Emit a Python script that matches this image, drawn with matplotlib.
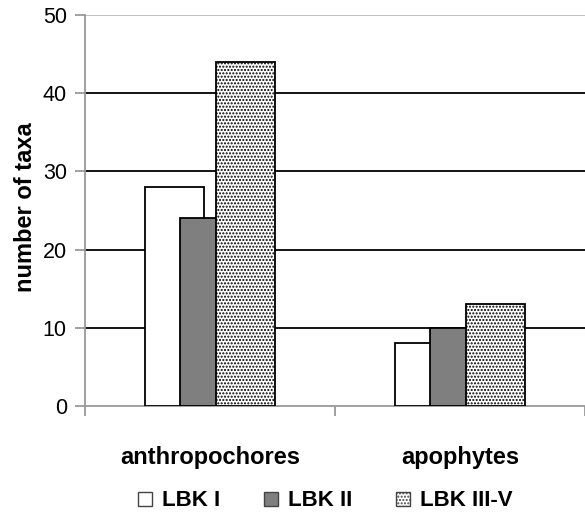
import matplotlib
matplotlib.use("Agg")
import matplotlib.pyplot as plt
import numpy as np
from matplotlib.patches import Patch

categories = ["anthropochores", "apophytes"]
series = ["LBK I", "LBK II", "LBK III-V"]
lbk1 = [28, 8]
lbk2 = [24, 10]
lbk3 = [44, 13]
yticks = [0, 10, 20, 30, 40, 50]

plt.rcParams['font.family'] = ['Liberation Sans', 'DejaVu Sans']
plt.rcParams['hatch.color'] = '#8a8a8a'
plt.rcParams['hatch.linewidth'] = 1.0

fig = plt.figure(figsize=(5.85, 5.27), dpi=100)
ax = fig.add_axes([0.145, 0.2296, 0.855, 0.742])

x = np.arange(len(categories))
w = 0.236
off = 0.142
styles = [dict(facecolor='white'), dict(facecolor='#7f7f7f'),
          dict(facecolor='white', hatch='.....')]
for i, (vals, st) in enumerate(zip([lbk1, lbk2, lbk3], styles)):
    ax.bar(x + (i - 1) * off, vals, width=w, edgecolor='black', linewidth=1.3,
           zorder=3, **st)

ax.set_xlim(-0.5, 1.5)
ax.set_ylim(0, 50)
ax.set_yticks(yticks)
ax.set_yticklabels([str(t) for t in yticks], fontsize=15.5)
for t in [10, 20, 30, 40]:
    ax.axhline(t, color='black', linewidth=1.3, zorder=1)
ax.axhline(50, color='#bbbbbb', linewidth=1.3, zorder=1)

ax.set_xticks([-0.5, 0.5, 1.5], minor=False)
ax.set_xticklabels([])
ax.set_xticks(x, minor=True)
ax.set_xticklabels(categories, minor=True, fontsize=17, fontweight='bold')
ax.tick_params(axis='x', which='minor', length=0, pad=29)
ax.tick_params(axis='x', which='major', length=7, color='#999999', width=1.3)
ax.tick_params(axis='y', length=7, color='#999999', width=1.3, pad=6)

for s in ['top', 'right']:
    ax.spines[s].set_visible(False)
for s in ['left', 'bottom']:
    ax.spines[s].set_color('#999999')
    ax.spines[s].set_linewidth(1.3)

fig.text(26 / 585, 1 - 207 / 527, "number of taxa", rotation=90,
         ha='center', va='center', fontsize=17, fontweight='bold')

handles = [Patch(facecolor=st.get('facecolor'), hatch=st.get('hatch'),
                 edgecolor='#444444', linewidth=1.0) for st in styles]
fig.legend(handles, series, loc='center', bbox_to_anchor=(0.556, 1 - 501 / 527),
           ncol=3, frameon=False, handlelength=0.6, handleheight=0.6,
           handletextpad=0.45, columnspacing=2.0,
           prop=dict(size=16, weight='bold'))

fig.savefig("out.png", dpi=100)
